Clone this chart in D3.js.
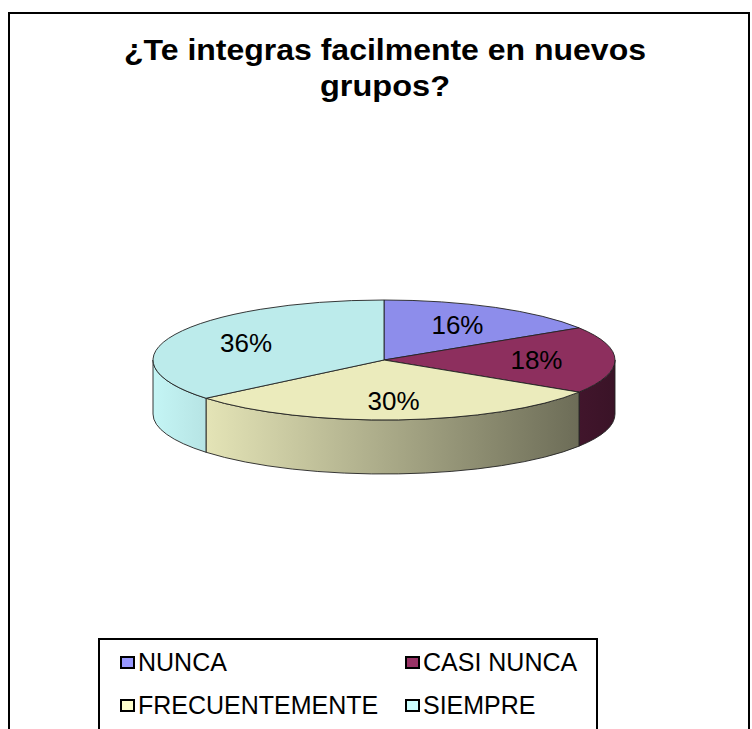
<!DOCTYPE html>
<html>
<head>
<meta charset="utf-8">
<script src="https://cdn.jsdelivr.net/npm/d3@7"></script>
<style>
  html, body { margin: 0; padding: 0; background: #fff; }
  svg { display: block; }
  text { font-family: "Liberation Sans", Arial, sans-serif; fill: #000; }
</style>
</head>
<body>
<script>
// chart data
const titleLines = ["¿Te integras facilmente en nuevos", "grupos?"];
const categories = ["NUNCA", "CASI NUNCA", "FRECUENTEMENTE", "SIEMPRE"];
const values = [16, 18, 30, 36];
const percentLabels = ["16%", "18%", "30%", "36%"];
const colors = ["#9999FF", "#993366", "#FFFFCC", "#CCFFFF"];

const width = 752;
const height = 729;

const svg = d3.select("body")
    .append("svg")
    .attr("width", width)
    .attr("height", height);

// outer chart frame
svg.append("rect")
    .attr("x", 9).attr("y", 13)
    .attr("width", 740).attr("height", 760)
    .attr("fill", "none")
    .attr("stroke", "#000")
    .attr("stroke-width", 2);

// title
const titleWidths = [522, 130];
svg.selectAll("text.title")
    .data(titleLines)
    .enter()
    .append("text")
    .attr("class", "title")
    .attr("x", 385)
    .attr("y", (d, i) => 60 + i * 36)
    .attr("text-anchor", "middle")
    .attr("textLength", (d, i) => titleWidths[i])
    .attr("lengthAdjust", "spacingAndGlyphs")
    .style("font-size", "30px")
    .style("font-weight", "bold")
    .text(d => d);

// 3d pie geometry
const cx = 384, cy = 360, rx = 231, ry = 60, depth = 54;

const pie = d3.pie().sort(null).value(d => d);
const slices = pie(values);

const pt = (a, dy = 0) => [cx + rx * Math.sin(a), cy - ry * Math.cos(a) + dy];

// side shading: light on the left, dark on the right
const shade = d3.scaleLinear().domain([cx - rx, cx + rx]).range([0.96, 0.38]);
const scaleColor = (c, k) => {
  const r = d3.rgb(c);
  return d3.rgb(r.r * k, r.g * k, r.b * k).formatHex();
};

const defs = svg.append("defs");
colors.forEach((c, i) => {
  const g = defs.append("linearGradient")
      .attr("id", "side" + i)
      .attr("gradientUnits", "userSpaceOnUse")
      .attr("x1", cx - rx).attr("x2", cx + rx)
      .attr("y1", 0).attr("y2", 0);
  g.append("stop").attr("offset", 0).attr("stop-color", scaleColor(c, shade(cx - rx)));
  g.append("stop").attr("offset", 1).attr("stop-color", scaleColor(c, shade(cx + rx)));
});

// front walls
const walls = slices.map((s, i) => {
  const a0 = Math.max(s.startAngle, Math.PI / 2);
  const a1 = Math.min(s.endAngle, Math.PI * 1.5);
  return { i, a0, a1 };
}).filter(w => w.a0 < w.a1);

svg.append("g")
  .selectAll("path")
  .data(walls)
  .enter()
  .append("path")
  .attr("d", w => {
    const p0 = pt(w.a0), p1 = pt(w.a1);
    const q0 = pt(w.a0, depth), q1 = pt(w.a1, depth);
    return `M${p0}A${rx},${ry} 0 0 1 ${p1}L${q1}A${rx},${ry} 0 0 0 ${q0}Z`;
  })
  .attr("fill", w => `url(#side${w.i})`)
  .attr("stroke", "#222")
  .attr("stroke-width", 0.9);

// top face
const arc = d3.arc().innerRadius(0).outerRadius(rx);
svg.append("g")
    .attr("transform", `translate(${cx},${cy}) scale(1,${ry / rx})`)
  .selectAll("path")
  .data(slices)
  .enter()
  .append("path")
  .attr("d", arc)
  .attr("fill", (d, i) => scaleColor(colors[i], 0.92))
  .attr("stroke", "#222")
  .attr("stroke-width", 0.9)
  .attr("vector-effect", "non-scaling-stroke");

// percent labels
svg.append("g")
  .selectAll("text")
  .data(slices)
  .enter()
  .append("text")
  .attr("x", d => cx + rx * 0.66 * Math.sin((d.startAngle + d.endAngle) / 2))
  .attr("y", d => cy - ry * 0.68 * Math.cos((d.startAngle + d.endAngle) / 2))
  .attr("dy", "0.36em")
  .attr("text-anchor", "middle")
  .style("font-size", "26px")
  .text((d, i) => percentLabels[i]);

// legend
svg.append("rect")
    .attr("x", 99).attr("y", 639)
    .attr("width", 498).attr("height", 120)
    .attr("fill", "#fff")
    .attr("stroke", "#000")
    .attr("stroke-width", 2);

const colX = [121, 406];
const legend = svg.append("g")
  .selectAll("g")
  .data(categories)
  .enter()
  .append("g")
  .attr("transform", (d, i) => `translate(${colX[i % 2]},${671 + Math.floor(i / 2) * 43})`);

legend.append("rect")
    .attr("x", 0).attr("y", -14)
    .attr("width", 13).attr("height", 11)
    .attr("fill", (d, i) => colors[i])
    .attr("stroke", "#000")
    .attr("stroke-width", 2);

legend.append("text")
    .attr("x", 17)
    .attr("y", 0)
    .style("font-size", "25px")
    .text(d => d);
</script>
</body>
</html>
